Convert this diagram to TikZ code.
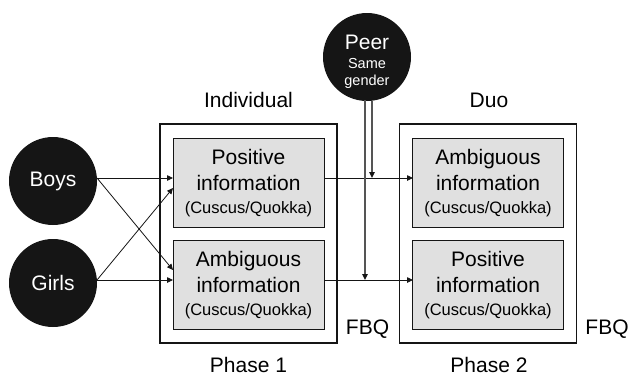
\documentclass[tikz,border=0pt]{standalone}
\usepackage{fontspec}
\setmainfont{Liberation Sans}
\usetikzlibrary{arrows.meta}
\definecolor{boxfill}{HTML}{E0E0E0}
\definecolor{dark}{HTML}{151515}
\definecolor{peerline}{HTML}{555555}
\tikzset{
  big/.style={font=\fontsize{21}{26}\selectfont},
  blob/.style={circle, fill=dark, draw=none, text=white, minimum size=88pt, inner sep=0pt, big},
  outerbox/.style={draw=dark, line width=1.5pt, minimum width=177pt, minimum height=219pt, inner sep=0pt},
  infobox/.style={draw=dark, line width=1pt, fill=boxfill, minimum width=151pt, minimum height=89pt, inner sep=0pt, align=center, big},
  lbl/.style={big, inner sep=0pt, anchor=base},
  conn/.style={line width=0.8pt, draw=dark, -{Triangle[length=6pt,width=5.5pt]}},
  peer/.style={line width=1.3pt, draw=peerline, -{Triangle[length=6pt,width=5.5pt,fill=dark,color=dark]}}
}
\newcommand{\sm}[1]{{\fontsize{16.5}{20}\selectfont #1}}
\newcommand{\peersmall}[1]{{\fontsize{14.5}{15}\selectfont #1}}
\begin{document}
\begin{tikzpicture}[x=1pt,y=-1pt]
\useasboundingbox (0,0) rectangle (629,376);
% outer boxes
\node[outerbox] (o1) at (248.5,233.5) {};
\node[outerbox] (o2) at (488,233.5) {};
% inner boxes
\node[infobox] (p1) at (248.5,183) {Positive\\information\\[-3pt]\sm{(Cuscus/Quokka)}};
\node[infobox] (a1) at (248.5,285) {Ambiguous\\information\\[-3pt]\sm{(Cuscus/Quokka)}};
\node[infobox] (a2) at (488,183) {Ambiguous\\information\\[-3pt]\sm{(Cuscus/Quokka)}};
\node[infobox] (p2) at (488,285) {Positive\\information\\[-3pt]\sm{(Cuscus/Quokka)}};
% circles
\node[blob] (boys) at (53,181) {Boys};
\node[blob] (girls) at (53,283) {Girls};
\node[blob] (peer) at (367,57) {};
\node[lbl, text=white] (peername) at (367,49) {Peer};
\node[lbl, text=white] (peersame) at (367,68) {\peersmall{Same}};
\node[lbl, text=white] (peergender) at (367,85) {\peersmall{gender}};
% labels
\node[lbl] (ind) at (248.5,107) {Individual};
\node[lbl] (duo) at (489,107) {Duo};
\node[lbl] (ph1) at (248.5,372) {Phase 1};
\node[lbl] (ph2) at (489,372) {Phase 2};
\node[lbl] (fbq1) at (367.5,334) {FBQ};
\node[lbl] (fbq2) at (607,334) {FBQ};
% coordinates
\coordinate (bs) at (97,178);
\coordinate (gs) at (97,280);
\coordinate (p1a) at (173,178);
\coordinate (p1b) at (173,188);
\coordinate (a1a) at (173,270);
\coordinate (a1b) at (173,280);
\coordinate (p1r) at (324,178);
\coordinate (a1r) at (324,280);
\coordinate (a2l) at (413,178);
\coordinate (p2l) at (413,280);
\coordinate (pk1) at (372,101);
\coordinate (pk2) at (365,100);
\coordinate (pe1) at (372,178);
\coordinate (pe2) at (365,280);
% connectors
\draw[conn] (bs) -- (p1a);
\draw[conn] (bs) -- (a1a);
\draw[conn] (gs) -- (a1b);
\draw[conn] (gs) -- (p1b);
\draw[conn] (p1r) -- (a2l);
\draw[conn] (a1r) -- (p2l);
\draw[peer] (pk1) -- (pe1);
\draw[peer] (pk2) -- (pe2);
\end{tikzpicture}
\end{document}
